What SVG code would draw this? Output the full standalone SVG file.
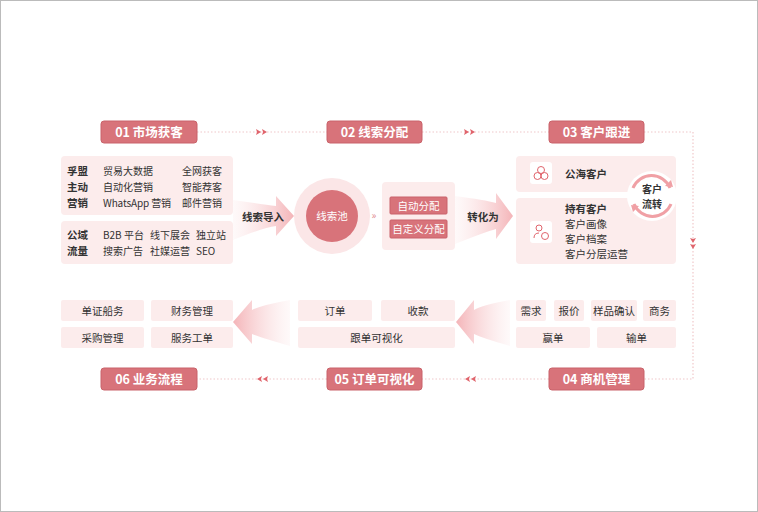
<svg xmlns="http://www.w3.org/2000/svg" width="758" height="512" viewBox="0 0 758 512">
<defs>
<style>
text{font-family:"Noto Sans CJK SC","Noto Sans",sans-serif;font-size:10.5px;fill:#333}
.hd rect{fill:#d8737a;stroke:#c9636a;stroke-width:1}
.hd text{fill:#fff;font-size:12.5px;font-weight:bold;text-anchor:middle}
.bx{fill:#fcecec}
.b{font-weight:bold}
.c{text-anchor:middle}
.s{font-size:10px}
.dl{stroke:#f0c8ca;stroke-width:1.2;stroke-dasharray:1.5 2;fill:none}
.ah{fill:#e0646c}
.btn{fill:#d8737a;stroke:#c9636a}
</style>
<linearGradient id="gr" x1="0" x2="1"><stop offset="0" stop-color="#fbe3e4" stop-opacity="0.2"/><stop offset="1" stop-color="#f4b4b8"/></linearGradient>
<linearGradient id="gl" x1="1" x2="0"><stop offset="0" stop-color="#fbe3e4" stop-opacity="0.2"/><stop offset="1" stop-color="#f4b4b8"/></linearGradient>
</defs>
<rect x="0" y="0" width="758" height="512" fill="#fff"/>
<rect x="0.5" y="0.5" width="757" height="511" fill="none" stroke="#bbb"/>
<g id="connectors">
<path class="dl" d="M197 132H327M422 132H549M644 132H693V379H644M549 379H422M327 379H197"/>
<path class="ah" d="M256 129l5 3-5 3 1-3zM262 129l5 3-5 3 1-3zM464 129l5 3-5 3 1-3zM470 129l5 3-5 3 1-3z"/>
<path class="ah" d="M690 238l3 5 3-5-3 1zM690 244l3 5 3-5-3 1z"/>
<path class="ah" d="M268 376l-5 3 5 3-1-3zM262 376l-5 3 5 3-1-3zM476 376l-5 3 5 3-1-3zM470 376l-5 3 5 3-1-3z"/>
<path fill="url(#gr)" d="M233 200Q262 204 276 206V196L294 216L276 236V226Q262 228 233 240Z"/>
<text x="263" y="221" class="c b">线索导入</text>
<path fill="url(#gr)" d="M455 196Q485 200 496 203V193L513 216L496 239V229Q485 232 455 244Z"/>
<text x="483" y="221" class="c b">转化为</text>
<path fill="url(#gl)" d="M290 300Q262 305 252 310V300L233 322L252 344V334Q262 338 290 346Z"/>
<path fill="url(#gl)" d="M510 300Q482 305 474 310V300L456 322L474 344V334Q482 338 510 346Z"/>
<text x="374" y="219" class="c" style="fill:#e08a90;font-size:10px">»</text>
</g>
<g id="h01" class="hd"><rect x="101" y="121" width="96" height="22" rx="3"/><text x="149" y="137">01 市场获客</text></g>
<g id="h02" class="hd"><rect x="327" y="121" width="95" height="22" rx="3"/><text x="374.5" y="137">02 线索分配</text></g>
<g id="h03" class="hd"><rect x="549" y="121" width="95" height="22" rx="3"/><text x="596.5" y="137">03 客户跟进</text></g>
<g id="h04" class="hd"><rect x="549" y="368" width="95" height="22" rx="3"/><text x="596.5" y="384">04 商机管理</text></g>
<g id="h05" class="hd"><rect x="327" y="368" width="95" height="22" rx="3"/><text x="374.5" y="384">05 订单可视化</text></g>
<g id="h06" class="hd"><rect x="101" y="368" width="96" height="22" rx="3"/><text x="149" y="384">06 业务流程</text></g>
<g id="market1"><rect class="bx" x="61" y="156" width="172" height="59" rx="4"/>
<text x="67" y="175" class="b">孚盟</text><text x="67" y="191" class="b">主动</text><text x="67" y="207" class="b">营销</text>
<text x="103" y="175" class="s">贸易大数据</text><text x="103" y="191" class="s">自动化营销</text><text x="103" y="207" class="s" textLength="68">WhatsApp 营销</text>
<text x="182" y="175" class="s">全网获客</text><text x="182" y="191" class="s">智能荐客</text><text x="182" y="207" class="s">邮件营销</text></g>
<g id="market2"><rect class="bx" x="61" y="221" width="172" height="43" rx="4"/>
<text x="67" y="239" class="b">公域</text><text x="67" y="255" class="b">流量</text>
<text x="103" y="239" class="s">B2B 平台</text><text x="150" y="239" class="s">线下展会</text><text x="196" y="239" class="s">独立站</text>
<text x="103" y="255" class="s">搜索广告</text><text x="150" y="255" class="s">社媒运营</text><text x="196" y="255" class="s">SEO</text></g>
<g id="pool"><circle cx="332" cy="216" r="38" fill="#fbe6e7"/><circle cx="332" cy="216" r="26" fill="#d8737a"/><text x="332" y="220" class="c" style="fill:#fff">线索池</text></g>
<g id="assign"><rect class="bx" x="382" y="182" width="73" height="68" rx="4"/>
<rect class="btn" x="390" y="197" width="57" height="17" rx="1"/><text x="418.5" y="209.5" class="c" style="fill:#fff">自动分配</text>
<rect class="btn" x="390" y="220" width="57" height="18" rx="1"/><text x="418.5" y="233" class="c" style="fill:#fff">自定义分配</text></g>
<g id="public"><rect class="bx" x="516" y="156" width="160" height="36" rx="4"/>
<rect x="530" y="162" width="22" height="22" rx="3" fill="#fff"/>
<g fill="none" stroke="#e0646c" stroke-width="1"><circle cx="541" cy="170" r="3.5"/><circle cx="537.5" cy="176" r="3.5"/><circle cx="544.5" cy="176" r="3.5"/></g>
<text x="565" y="178" class="b">公海客户</text></g>
<g id="own"><rect class="bx" x="516" y="198" width="160" height="66" rx="4"/>
<rect x="530" y="221" width="22" height="22" rx="3" fill="#fff"/>
<g fill="none" stroke="#e0646c" stroke-width="1"><circle cx="539" cy="228" r="3"/><path d="M534 238q0-5 5-5"/><circle cx="545" cy="236" r="3.5"/></g>
<text x="565" y="213" class="b">持有客户</text><text x="565" y="228">客户画像</text><text x="565" y="243">客户档案</text><text x="565" y="258">客户分层运营</text></g>
<g id="flow"><circle cx="652" cy="196" r="25" fill="#fff"/>
<path d="M633 188A20 20 0 0 1 670 188" fill="none" stroke="#f0a0a5" stroke-width="3"/><path d="M671 204A20 20 0 0 1 634 204" fill="none" stroke="#f0a0a5" stroke-width="3"/>
<path d="M665 186l8 1-2-7z" fill="#f0a0a5"/><path d="M639 206l-8-1 2 7z" fill="#f0a0a5"/>
<text x="652" y="193" class="c b" style="font-size:10px">客户</text><text x="652" y="208" class="c b" style="font-size:10px">流转</text></g>
<g id="biz"><rect class="bx" x="516" y="300" width="30" height="21" rx="2"/><rect class="bx" x="554" y="300" width="30" height="21" rx="2"/><rect class="bx" x="591" y="300" width="46" height="21" rx="2"/><rect class="bx" x="643" y="300" width="33" height="21" rx="2"/>
<rect class="bx" x="516" y="327" width="74" height="21" rx="2"/><rect class="bx" x="597" y="327" width="79" height="21" rx="2"/>
<text x="531" y="315" class="c">需求</text><text x="569" y="315" class="c">报价</text><text x="614" y="315" class="c">样品确认</text><text x="659.5" y="315" class="c">商务</text>
<text x="553" y="342" class="c">赢单</text><text x="636.5" y="342" class="c">输单</text></g>
<g id="order"><rect class="bx" x="298" y="300" width="74" height="21" rx="2"/><rect class="bx" x="381" y="300" width="74" height="21" rx="2"/><rect class="bx" x="298" y="327" width="157" height="21" rx="2"/>
<text x="335" y="315" class="c">订单</text><text x="418" y="315" class="c">收款</text><text x="376.5" y="342" class="c">跟单可视化</text></g>
<g id="process"><rect class="bx" x="61" y="300" width="83" height="21" rx="2"/><rect class="bx" x="151" y="300" width="82" height="21" rx="2"/><rect class="bx" x="61" y="327" width="83" height="21" rx="2"/><rect class="bx" x="151" y="327" width="82" height="21" rx="2"/>
<text x="102.5" y="315" class="c">单证船务</text><text x="192" y="315" class="c">财务管理</text><text x="102.5" y="342" class="c">采购管理</text><text x="192" y="342" class="c">服务工单</text></g>
</svg>
